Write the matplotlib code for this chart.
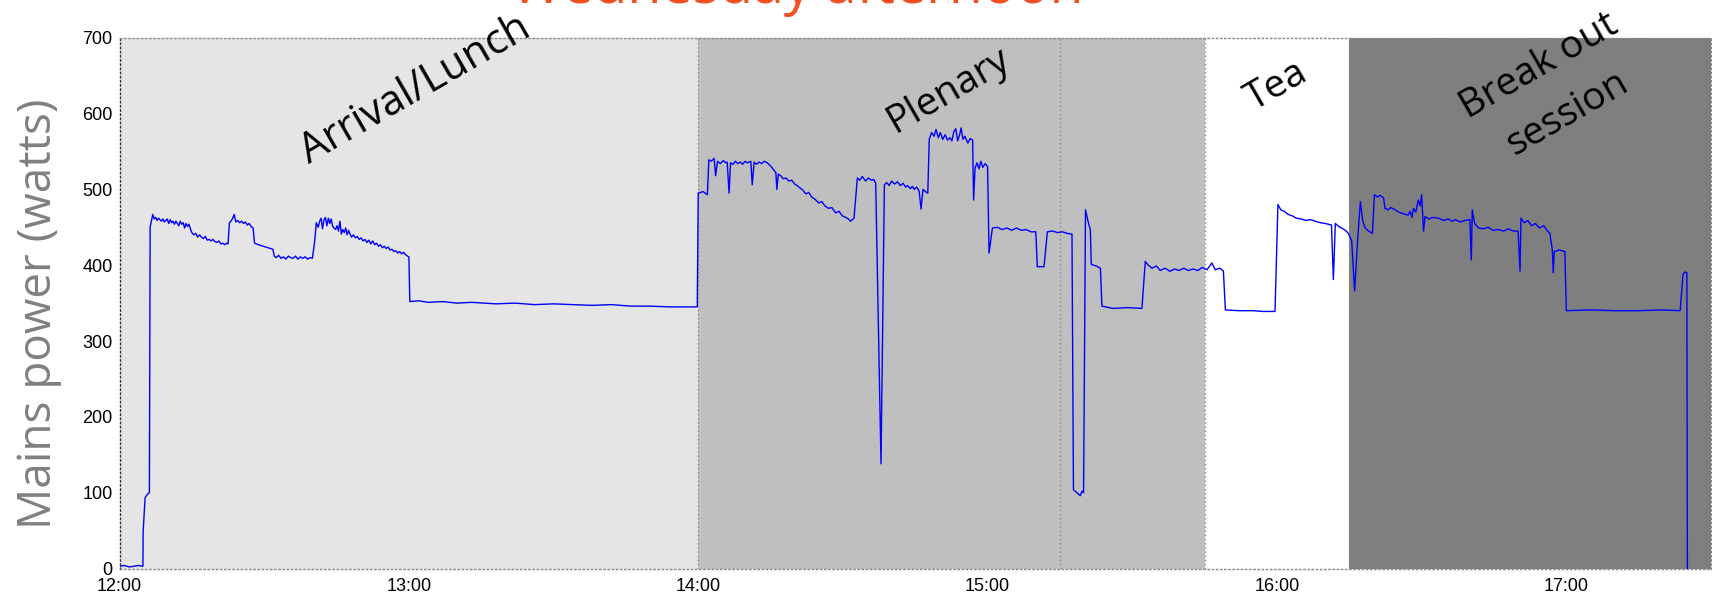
import matplotlib
matplotlib.use("Agg")
import matplotlib.pyplot as plt

# ---- data: (minutes after 12:00, watts), one list per session ----
arrival = [(0,3),(1,4),(2,2),(3,3),(4,4),(4.86,3),(4.9,48),(5.3,93),(5.8,98),(6.2,100),(6.35,450),(6.6,458),
    (6.9,467),(7.2,461),(7.5,463),(7.8,459),(8.1,462),(8.4,460),(8.7,458),(9.0,461),(9.3,457),(9.6,459),
    (9.9,461),(10.2,455),(10.5,460),(10.8,456),(11.1,458),(11.4,454),(11.7,458),(12.0,455),(12.3,452),
    (12.6,458),(12.9,454),(13.2,456),(13.5,449),(13.8,455),(14.1,451),(14.4,454),(14.7,448),(15.0,443),
    (15.4,440),(15.8,442),(16.2,437),(16.6,440),(17.0,437),(17.4,435),(17.8,438),(18.2,433),(18.6,434),
    (19.0,432),(19.4,434),(19.8,431),(20.2,430),(20.6,432),(21.0,428),(21.4,429),(21.8,427),(22.2,429),
    (22.5,428),(22.8,456),(23.1,458),(23.4,461),(23.8,467),(24.1,457),(24.5,459),(24.9,456),(25.3,458),
    (25.7,455),(26.1,457),(26.5,453),(26.9,455),(27.3,451),(27.7,449),(28.0,429),(28.4,428),(28.8,427),
    (29.3,426),(29.8,425),(30.3,424),(30.8,423),(31.3,422),(31.8,421),(32.1,412),(32.5,410),(33.0,413),
    (33.5,409),(34.0,411),(34.5,408),(35.0,412),(35.5,410),(36.0,409),(36.5,412),(37.0,408),(37.5,411),
    (38.0,409),(38.5,411),(39.0,408),(39.5,410),(40.0,409),(40.5,433),(40.8,456),(41.2,450),(41.5,458),
    (41.8,462),(42.1,448),(42.4,460),(42.7,463),(43.0,452),(43.3,462),(43.6,455),(43.9,461),(44.2,451),
    (44.5,449),(44.8,447),(45.1,452),(45.4,445),(45.7,458),(46.0,441),(46.3,447),(46.6,443),(46.9,449),
    (47.2,440),(47.5,446),(47.8,441),(48.1,437),(48.5,440),(48.9,436),(49.3,438),(49.7,434),(50.1,436),
    (50.5,432),(50.9,434),(51.3,430),(51.7,433),(52.1,428),(52.5,432),(52.9,427),(53.3,429),(53.7,425),
    (54.1,427),(54.5,423),(54.9,425),(55.3,422),(55.7,424),(56.1,420),(56.5,421),(56.9,418),(57.3,419),
    (57.7,416),(58.1,418),(58.5,415),(58.9,417),(59.3,414),(59.7,412),(60.0,411),(60.2,352),(62,353),
    (64,351),(67,352),(70,350),(73,351),(78,349),(82,350),(86,348),(90,349),(94,348),(98,347),(102,348),
    (106,346),(110,346),(114,345),(117,345),(119.8,345)]

plenary = [(120.0,495),(121.0,497),(121.9,493),(122.2,539),(122.7,537),(123.3,541),(123.6,518),(124.0,537),
    (124.6,534),(125.2,538),(125.7,535),(126.0,536),(126.4,495),(126.7,535),(127.2,533),(127.7,537),
    (128.2,534),(128.7,536),(129.2,533),(129.7,537),(130.2,535),(130.9,537),(131.2,506),(131.6,536),
    (132.1,533),(132.6,536),(133.1,534),(133.7,537),(134.3,535),(135.0,531),(135.6,526),(136.1,522),
    (136.3,500),(136.6,520),(137.1,518),(137.6,514),(138.2,515),(138.8,511),(139.4,512),(140.0,507),
    (140.5,505),(141.1,502),(141.7,499),(142.3,494),(142.9,496),(143.5,490),(144.2,487),(145.0,482),
    (145.6,484),(146.3,478),(147.0,475),(147.7,476),(148.5,469),(149.2,471),(149.9,465),(150.6,463),
    (151.1,461),(151.6,458),(152.3,462),(153.0,515),(153.5,512),(154.0,517),(154.7,511),(155.3,515),
    (155.9,512),(156.4,513),(156.8,508),(157.9,138),(158.6,506),(159.1,509),(159.6,505),(160.1,511),
    (160.7,507),(161.3,510),(161.9,505),(162.5,508),(163.0,503),(163.4,505),(164.0,501),(164.4,504),
    (164.8,500),(165.3,503),(165.8,498),(166.2,474),(166.6,500),(167.1,497),(167.6,495),(167.9,566),
    (168.4,575),(168.9,570),(169.3,579),(169.8,568),(170.2,575),(170.7,566),(171.2,572),(171.7,565),
    (172.2,568),(172.6,564),(173.0,576),(173.4,580),(173.8,564),(174.2,572),(174.5,581),(174.9,566),
    (175.3,570),(175.9,561),(176.4,567),(176.9,565),(177.1,486),(177.4,528),(177.8,535),(178.2,527),
    (178.6,537),(179.0,529),(179.5,534),(180.0,530),(180.3,416),(181.0,449),(182.0,450),(183.0,447),
    (184.0,449),(185.0,446),(186.0,449),(187.0,446),(188.0,447),(189.0,444),(190.0,444),(190.3,398),
    (191.7,398),(192.4,444),(193.5,445),(194.5,443),(195.5,444),(196.5,442),(197.5,441),(197.8,104),
    (198.5,100),(199.2,96),(199.6,102),(199.9,100),(200.3,473),(200.9,456),(201.3,447),(201.5,401),
    (202.5,399),(203.4,396),(203.7,346),(206,343),(209,344),(212.0,343),(212.7,405),(213.3,400),
    (214.1,396),(215.0,399),(215.8,393),(216.8,396),(217.8,392),(218.8,395),(219.7,393),(220.7,396),
    (221.6,393),(222.6,395),(223.6,393),(224.5,397)]

tea = [(225.5,394),(226.5,403),(227.2,394),(228.2,396),(228.9,392),(229.3,341),(232,340),(235,340),
    (237,339),(239.6,339),(240.2,480),(240.8,473),(241.5,471),(242.3,467),(243.2,465),(244.0,462),
    (245.0,461),(246.0,459),(247.0,460),(247.9,458),(249.0,456),(250.0,455),(251.3,453),(251.7,381),
    (252.1,455),(252.8,451),(253.4,449),(254.2,446),(254.8,442)]

breakout = [(255.5,432),(256.1,366),(256.8,440),(257.3,484),(257.8,458),(258.3,449),(259.0,445),
    (259.8,442),(260.2,493),(260.8,490),(261.4,492),(262.1,489),(262.4,475),(263.0,473),(263.6,476),
    (264.5,473),(265.3,470),(266.1,468),(267.2,466),(267.6,471),(268.0,463),(268.3,475),(268.8,470),
    (269.3,486),(269.7,478),(270.0,493),(270.4,445),(270.7,464),(271.5,461),(272.3,463),(273.5,462),
    (274.5,459),(275.5,461),(276.3,458),(277.0,460),(278.0,457),(279.0,459),(280.0,460),(280.3,407),
    (280.5,473),(281.0,455),(281.8,449),(282.8,448),(283.8,450),(284.8,446),(285.9,447),(287.0,445),
    (288.0,448),(289.0,445),(290.0,445),(290.4,392),(290.6,462),(291.3,456),(292.0,459),(292.8,452),
    (293.6,455),(294.4,449),(295.3,452),(296.0,446),(296.6,442),(297.1,420),(297.3,390),(297.5,418),
    (298.5,420),(299.7,418),(300.0,340),(305,341),(310,340),(315,340),(320,341),(323.6,340),
    (324.2,388),(324.6,391),(325.0,390),(325.1,0)]

phase_names = ["Arrival/Lunch", "Plenary", "Tea", "Break out\nsession"]
phase_start = [0, 120, 225, 255]
phase_end = [120, 225, 255, 330]
phase_colors = ["#e5e5e5", "#bfbfbf", "#ffffff", "#7f7f7f"]
divider_minutes = [120, 195, 225, 255]

tick_minutes = [0, 60, 120, 180, 240, 300]
tick_labels = ["12:00", "13:00", "14:00", "15:00", "16:00", "17:00"]
y_ticks = [0, 100, 200, 300, 400, 500, 600, 700]

series = arrival + plenary + tea + breakout
minutes = [p[0] for p in series]
watts = [p[1] for p in series]

# ---- figure ----
W, H = 1712, 597
fig = plt.figure(figsize=(W / 100, H / 100), dpi=100)
ax = fig.add_axes([119.5 / W, 1 - 568.5 / H, (1711 - 119.5) / W, (568.5 - 37.7) / H])

for s, e, c in zip(phase_start, phase_end, phase_colors):
    ax.axvspan(s, e, color=c, lw=0, zorder=0)
for d in divider_minutes:
    ax.axvline(d, color="#8a8a8a", lw=1, ls=(0, (1, 2)), zorder=1)

ax.plot(minutes, watts, color="#0000ff", lw=1.0, zorder=3)

ax.set_xlim(0, 330)
ax.set_ylim(0, 700)
ax.set_xticks(tick_minutes)
ax.set_xticklabels(tick_labels)
ax.set_yticks(y_ticks)
ax.tick_params(length=0, labelsize=13, pad=5)
for lab in ax.get_xticklabels() + ax.get_yticklabels():
    lab.set_family(["Liberation Sans", "DejaVu Sans"])
    lab.set_color("black")
ax.tick_params(axis="x", pad=7)

for name, sp in ax.spines.items():
    sp.set_linestyle((0, (1, 2)))
    sp.set_linewidth(1)
    sp.set_color("#333333" if name == "left" else "#8a8a8a")

# phase labels
label_pos = [(61.3, 631), (171.8, 630), (240.0, 636), (297.3, 631)]
label_size = [30, 28, 28, 28]
for name, (lx, ly), fs in zip(phase_names, label_pos, label_size):
    ax.text(lx, ly, name, rotation=30, rotation_mode="anchor", ha="center", va="center",
            fontsize=fs, family=["Open Sans", "DejaVu Sans"], color="black",
            linespacing=1.6, clip_on=False, zorder=5)

# y label and title
fig.text(0.023, 0.474, "Mains power (watts)", rotation=90, ha="center", va="center",
         fontsize=33, color="#808080", family=["Open Sans", "DejaVu Sans"])
fig.text(797 / W, 1 - 3 / H, "Wednesday afternoon", ha="center", va="baseline",
         fontsize=40, color="#f25022", family=["Open Sans", "DejaVu Sans"])

fig.savefig("out.png", dpi=100)
